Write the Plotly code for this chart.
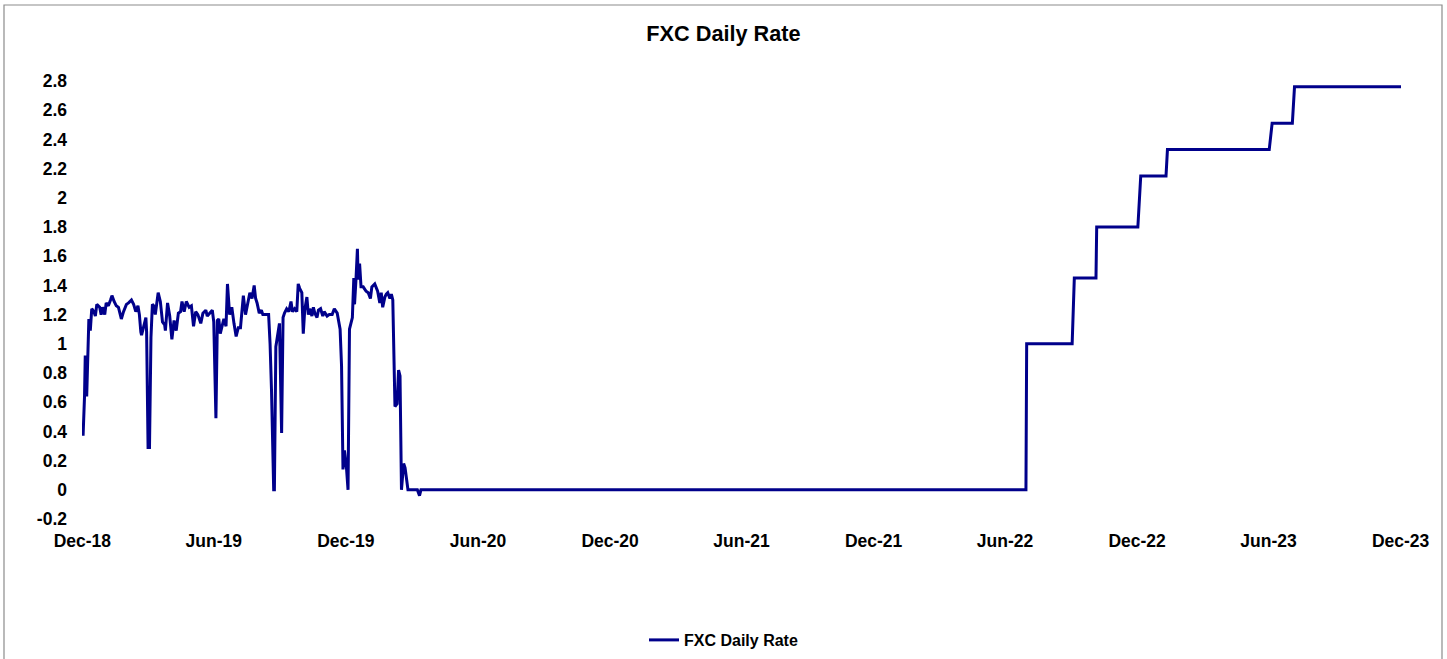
import plotly.graph_objects as go

# ---- data ----
dates = [
    "2018-12-02", "2018-12-04", "2018-12-05", "2018-12-07", "2018-12-10", "2018-12-12", "2018-12-14",
    "2018-12-17", "2018-12-19", "2018-12-21", "2018-12-25", "2018-12-27", "2018-12-29", "2019-01-01",
    "2019-01-03", "2019-01-06", "2019-01-09", "2019-01-11", "2019-01-14", "2019-01-17", "2019-01-20",
    "2019-01-24", "2019-01-27", "2019-01-31", "2019-02-03", "2019-02-07", "2019-02-10", "2019-02-13",
    "2019-02-16", "2019-02-18", "2019-02-20", "2019-02-21", "2019-02-24", "2019-02-27", "2019-02-28",
    "2019-03-02", "2019-03-04", "2019-03-06", "2019-03-08", "2019-03-10", "2019-03-12", "2019-03-16",
    "2019-03-19", "2019-03-22", "2019-03-25", "2019-03-26", "2019-03-29", "2019-04-01", "2019-04-04",
    "2019-04-07", "2019-04-10", "2019-04-13", "2019-04-16", "2019-04-18", "2019-04-21", "2019-04-24",
    "2019-04-28", "2019-05-01", "2019-05-04", "2019-05-07", "2019-05-10", "2019-05-14", "2019-05-17",
    "2019-05-21", "2019-05-23", "2019-05-27", "2019-05-30", "2019-06-01", "2019-06-04", "2019-06-06",
    "2019-06-08", "2019-06-10", "2019-06-13", "2019-06-15", "2019-06-18", "2019-06-20", "2019-06-23",
    "2019-06-26", "2019-06-29", "2019-07-02", "2019-07-05", "2019-07-08", "2019-07-12", "2019-07-15",
    "2019-07-19", "2019-07-21", "2019-07-24", "2019-07-27", "2019-07-29", "2019-07-31", "2019-08-03",
    "2019-08-06", "2019-08-08", "2019-08-11", "2019-08-16", "2019-08-18", "2019-08-20", "2019-08-23",
    "2019-08-24", "2019-08-26", "2019-08-29", "2019-08-31", "2019-09-03", "2019-09-05", "2019-09-07",
    "2019-09-10", "2019-09-13", "2019-09-16", "2019-09-18", "2019-09-21", "2019-09-24", "2019-09-26",
    "2019-09-28", "2019-10-01", "2019-10-03", "2019-10-05", "2019-10-08", "2019-10-10", "2019-10-12",
    "2019-10-15", "2019-10-17", "2019-10-19", "2019-10-22", "2019-10-24", "2019-10-27", "2019-10-30",
    "2019-11-01", "2019-11-05", "2019-11-08", "2019-11-12", "2019-11-15", "2019-11-19", "2019-11-23",
    "2019-11-25", "2019-11-27", "2019-11-29", "2019-12-02", "2019-12-04", "2019-12-06", "2019-12-10",
    "2019-12-12", "2019-12-13", "2019-12-15", "2019-12-17", "2019-12-18", "2019-12-20", "2019-12-22",
    "2019-12-25", "2019-12-29", "2020-01-01", "2020-01-04", "2020-01-06", "2020-01-10", "2020-01-12",
    "2020-01-14", "2020-01-17", "2020-01-19", "2020-01-21", "2020-01-24", "2020-01-26", "2020-01-28",
    "2020-01-31", "2020-02-02", "2020-02-04", "2020-02-06", "2020-02-07", "2020-02-10", "2020-02-12",
    "2020-02-14", "2020-02-16", "2020-02-19", "2020-02-21", "2020-02-25", "2020-03-09", "2020-03-12",
    "2020-03-14",
    "2022-06-30", "2022-07-01", "2022-09-02", "2022-09-05", "2022-10-05", "2022-10-06",
    "2022-12-02", "2022-12-06", "2023-01-10", "2023-01-12", "2023-06-02", "2023-06-06",
    "2023-07-04", "2023-07-07", "2023-12-03",
]

rates = [
    0.37, 0.64, 0.92, 0.64, 1.17, 1.09, 1.24,
    1.22, 1.19, 1.27, 1.25, 1.20, 1.25, 1.20,
    1.28, 1.26, 1.30, 1.33, 1.29, 1.26, 1.25,
    1.17, 1.22, 1.27, 1.28, 1.30, 1.27, 1.22,
    1.26, 1.20, 1.08, 1.06, 1.12, 1.18, 1.08,
    0.29, 0.29, 1.04, 1.27, 1.26, 1.20, 1.35,
    1.29, 1.15, 1.13, 1.09, 1.28, 1.19, 1.03,
    1.16, 1.09, 1.21, 1.22, 1.29, 1.22, 1.29,
    1.25, 1.26, 1.12, 1.22, 1.20, 1.14, 1.21,
    1.23, 1.19, 1.21, 1.23, 1.15, 0.49, 1.16,
    1.17, 1.07, 1.12, 1.17, 1.12, 1.41, 1.20,
    1.25, 1.14, 1.05, 1.11, 1.11, 1.33, 1.20,
    1.30, 1.35, 1.31, 1.40, 1.31, 1.28, 1.21,
    1.23, 1.20, 1.20, 1.20, 1.00, 0.68, 0.00,
    0.00, 0.98, 1.07, 1.14, 0.39, 1.18, 1.21,
    1.24, 1.22, 1.29, 1.22, 1.24, 1.22, 1.41,
    1.38, 1.35, 1.07, 1.23, 1.32, 1.20, 1.24,
    1.19, 1.25, 1.21, 1.18, 1.23, 1.24, 1.19,
    1.22, 1.19, 1.20, 1.20, 1.24, 1.21, 1.10,
    0.85, 0.14, 0.27, 0.14, 0.00, 1.10, 1.18,
    1.45, 1.27, 1.44, 1.65, 1.44, 1.55, 1.39,
    1.39, 1.36, 1.35, 1.31, 1.39, 1.41, 1.39,
    1.36, 1.28, 1.35, 1.25, 1.32, 1.34, 1.35,
    1.31, 1.34, 1.30, 0.87, 0.57, 0.59, 0.82,
    0.78, 0.00, 0.18, 0.15, 0.00, 0.00, -0.04,
    0.00,
    0.00, 1.00, 1.00, 1.45, 1.45, 1.80,
    1.80, 2.15, 2.15, 2.33, 2.33, 2.51,
    2.51, 2.76, 2.76,
]

series_name = "FXC Daily Rate"
chart_title = "FXC Daily Rate"

x_tick_vals = ["2018-12-01", "2019-06-01", "2019-12-01", "2020-06-01", "2020-12-01", "2021-06-01",
               "2021-12-01", "2022-06-01", "2022-12-01", "2023-06-01", "2023-12-01"]
x_tick_text = ["Dec-18", "Jun-19", "Dec-19", "Jun-20", "Dec-20", "Jun-21",
               "Dec-21", "Jun-22", "Dec-22", "Jun-23", "Dec-23"]

y_tick_vals = [-0.2, 0, 0.2, 0.4, 0.6, 0.8, 1.0, 1.2, 1.4, 1.6, 1.8, 2.0, 2.2, 2.4, 2.6, 2.8]
y_tick_text = ["-0.2", "0", "0.2", "0.4", "0.6", "0.8", "1", "1.2", "1.4", "1.6", "1.8",
               "2", "2.2", "2.4", "2.6", "2.8"]

# ---- figure ----
FONT = "Liberation Sans, Arial, sans-serif"
LINE_COLOR = "#00008B"

fig = go.Figure()
fig.add_trace(go.Scatter(
    x=dates, y=rates, mode="lines", name=series_name,
    line=dict(color=LINE_COLOR, width=3),
))

W, H = 1447, 659
L, R, T, B = 82, 46, 81, 140
pw, ph = W - L - R, H - T - B

def px_x(p):
    return (p - L) / pw

def px_y(p):
    return (H - B - p) / ph

fig.update_layout(
    width=W, height=H,
    margin=dict(l=L, r=R, t=T, b=B, autoexpand=False),
    paper_bgcolor="white", plot_bgcolor="white",
    font=dict(family=FONT, color="black"),
    title=dict(text=chart_title, x=0.5, xref="container", y=1 - 33 / H, yref="container",
               xanchor="center", yanchor="middle",
               font=dict(family=FONT, size=21.7, color="black", weight="bold")),
    showlegend=True,
    legend=dict(orientation="h", x=0.5, xref="container", xanchor="center",
                y=1 - 640 / H, yref="container", yanchor="middle",
                font=dict(family=FONT, size=16, color="black", weight="bold"),
                bgcolor="rgba(0,0,0,0)"),
    xaxis=dict(type="date", range=["2018-11-30 12:00", "2023-12-01 12:00"],
               tickvals=x_tick_vals, ticktext=x_tick_text,
               showgrid=False, zeroline=False, showline=False, ticks="",
               ticklabelstandoff=9,
               tickfont=dict(family=FONT, size=17.5, color="black", weight="bold")),
    yaxis=dict(range=[-0.2, 2.8], tickvals=y_tick_vals, ticktext=y_tick_text,
               showgrid=False, zeroline=False, showline=False, ticks="",
               ticklabelstandoff=14,
               tickfont=dict(family=FONT, size=17.5, color="black", weight="bold")),
    shapes=[dict(type="rect", xref="paper", yref="paper",
                 x0=px_x(4), x1=px_x(1442), y0=px_y(668), y1=px_y(5),
                 line=dict(color="#8c8c8c", width=1.2), fillcolor="rgba(0,0,0,0)",
                 layer="below")],
)

fig.write_html("out.html",
               config={"displayModeBar": False},
               post_script="document.body.style.margin='0';document.body.style.overflow='hidden';")
